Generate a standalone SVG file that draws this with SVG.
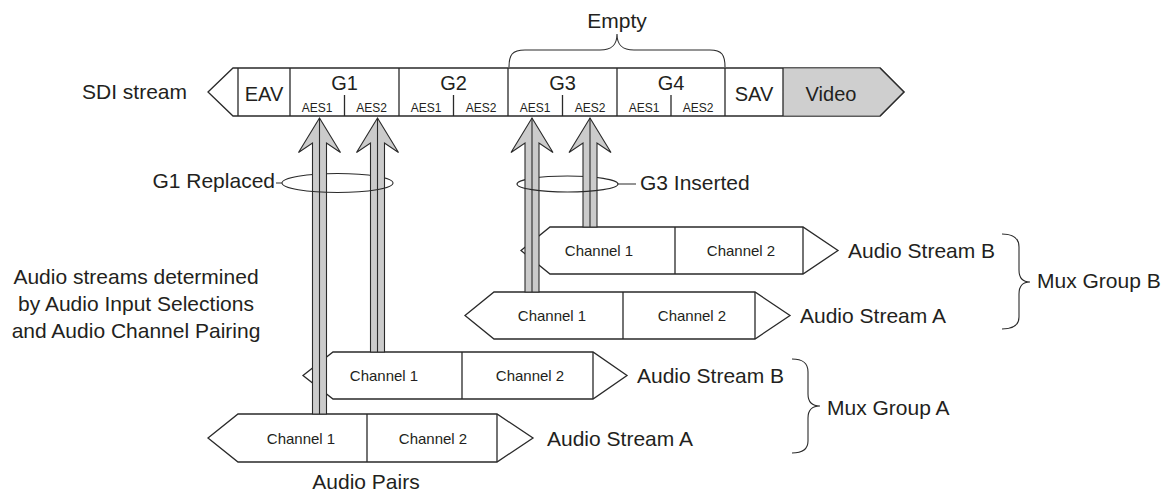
<svg xmlns="http://www.w3.org/2000/svg" width="1173" height="496" viewBox="0 0 1173 496">
<defs>
<style>
.box{fill:#fff;stroke:#2a2a2a;stroke-width:1.3;stroke-linejoin:miter}
.ln{fill:none;stroke:#2a2a2a;stroke-width:1.3}
.thin{fill:none;stroke:#2a2a2a;stroke-width:1.1}
.grayfill{fill:#cfcfcf;stroke:none}
.arw{fill:#cbcbcb;stroke:#2a2a2a;stroke-width:1.1;stroke-linejoin:miter}
text{font-family:"Liberation Sans",Arial,sans-serif;fill:#231f20}
.lg{font-size:21px}
.md{font-size:20px}
.sm{font-size:12px}
.ch{font-size:15px}
.mid{text-anchor:middle}
.end{text-anchor:end}
</style>
</defs>
<rect width="1173" height="496" fill="#fff"/>

<!-- SDI stream bar -->
<g id="sdi-stream">
<text class="lg" x="82" y="99">SDI stream</text>
<polygon class="box" points="208,92 233,68 880,68 904,92 880,116 233,116"/>
<polygon class="grayfill" points="783,68.6 880,68.6 903,92 880,115.4 783,115.4"/>
<path class="ln" d="M880,68 L904,92 L880,116 M238,68 V116 M290,68 V116 M399,68 V116 M508,68 V116 M617,68 V116 M725,68 V116 M783,68 V116 M344.5,95 V116 M453.5,95 V116 M562.5,95 V116 M671,95 V116"/>
<text class="md mid" x="264" y="101">EAV</text>
<text class="md mid" x="344.5" y="90">G1</text>
<text class="md mid" x="453.5" y="90">G2</text>
<text class="md mid" x="562.5" y="90">G3</text>
<text class="md mid" x="671" y="90">G4</text>
<text class="md mid" x="754" y="101">SAV</text>
<text class="md mid" x="831" y="101">Video</text>
<text class="sm mid" x="317" y="112">AES1</text>
<text class="sm mid" x="371.5" y="112">AES2</text>
<text class="sm mid" x="426" y="112">AES1</text>
<text class="sm mid" x="481" y="112">AES2</text>
<text class="sm mid" x="535" y="112">AES1</text>
<text class="sm mid" x="590" y="112">AES2</text>
<text class="sm mid" x="644" y="112">AES1</text>
<text class="sm mid" x="698" y="112">AES2</text>
</g>

<g id="empty-label">
<text class="lg mid" x="617" y="28">Empty</text>
</g>

<!-- ellipse back halves -->
<g id="rings-back">
<path class="thin" d="M282,183 A55.5,9.5 0 0 1 393,183"/>
<path class="thin" d="M517,184 A50.5,8 0 0 1 618,184"/>
</g>

<!-- Mux Group B streams -->
<g id="mux-b-stream-b">
<polygon class="box" points="521,250.5 550,227 803,227 838,250.5 803,274 550,274"/>
<path class="ln" d="M675,227 V274 M803,227 V274"/>
<text class="ch mid" x="599" y="256">Channel 1</text>
<text class="ch mid" x="741" y="256">Channel 2</text>
<text class="lg" x="848" y="258">Audio Stream B</text>
</g>
<g id="mux-b-stream-a">
<polygon class="box" points="465,315.5 494,292 755,292 790,315.5 755,339 494,339"/>
<path class="ln" d="M623,292 V339 M755,292 V339"/>
<text class="ch mid" x="552" y="321">Channel 1</text>
<text class="ch mid" x="692" y="321">Channel 2</text>
<text class="lg" x="800" y="323">Audio Stream A</text>
</g>

<!-- Mux Group A streams -->
<g id="mux-a-stream-b">
<polygon class="box" points="303,375.5 333,352 593,352 627,375.5 593,399 333,399"/>
<path class="ln" d="M462,352 V399 M593,352 V399"/>
<text class="ch mid" x="384" y="381">Channel 1</text>
<text class="ch mid" x="530" y="381">Channel 2</text>
<text class="lg" x="637" y="383">Audio Stream B</text>
</g>
<g id="mux-a-stream-a">
<polygon class="box" points="208,438 238,414 497,414 533,438 497,462 238,462"/>
<path class="ln" d="M367,414 V462 M497,414 V462"/>
<text class="ch mid" x="301" y="444">Channel 1</text>
<text class="ch mid" x="433" y="444">Channel 2</text>
<text class="lg" x="547" y="446">Audio Stream A</text>
</g>

<!-- connectors: arrows, rings, braces -->
<g id="connectors">
<polygon class="arw" points="319.5,118 340.5,152.5 326.5,143 326.5,414 312.5,414 312.5,143 298.5,152.5"/>
<path class="thin" d="M319.5,118 V414"/>
<polygon class="arw" points="377.5,118 398.5,152.5 384.5,143 384.5,352 370.5,352 370.5,143 356.5,152.5"/>
<path class="thin" d="M377.5,118 V352"/>
<polygon class="arw" points="532,118 553,152.5 539,143 539,292 525,292 525,143 511,152.5"/>
<path class="thin" d="M532,118 V292"/>
<polygon class="arw" points="590,118 611,152.5 597,143 597,227 583,227 583,143 569,152.5"/>
<path class="thin" d="M590,118 V227"/>
<path class="thin" d="M282,183 A55.5,9.5 0 0 0 393,183 M276,183 H282"/>
<path class="thin" d="M517,184 A50.5,8 0 0 0 618,184 H636"/>
<path class="thin" d="M509,67 C509,55 512,50 525,50 L600,50 C612,50 617,45 617,34 C617,45 622,50 634,50 L710,50 C722,50 725,55 725,67"/>
<path class="thin" d="M792,359 C802,359 808,362 808,372 L808,394 C808,402 812,406 820,406 C812,406 808,410 808,418 L808,441 C808,450 802,453 792,453"/>
<path class="thin" d="M1002,234 C1012,234 1019,237 1019,247 L1019,270 C1019,278 1023,282 1030,282 C1023,282 1019,286 1019,294 L1019,317 C1019,326 1012,329 1002,329"/>
</g>

<g id="labels">
<text class="lg end" x="275" y="188">G1 Replaced</text>
<text class="lg" x="640" y="190">G3 Inserted</text>
<text class="lg mid" x="136" y="284">Audio streams determined</text>
<text class="lg mid" x="136" y="311">by Audio Input Selections</text>
<text class="lg mid" x="136" y="338">and Audio Channel Pairing</text>
<text class="lg mid" x="366" y="489">Audio Pairs</text>
<text class="lg" x="827" y="415">Mux Group A</text>
<text class="lg" x="1037" y="288">Mux Group B</text>
</g>
</svg>
